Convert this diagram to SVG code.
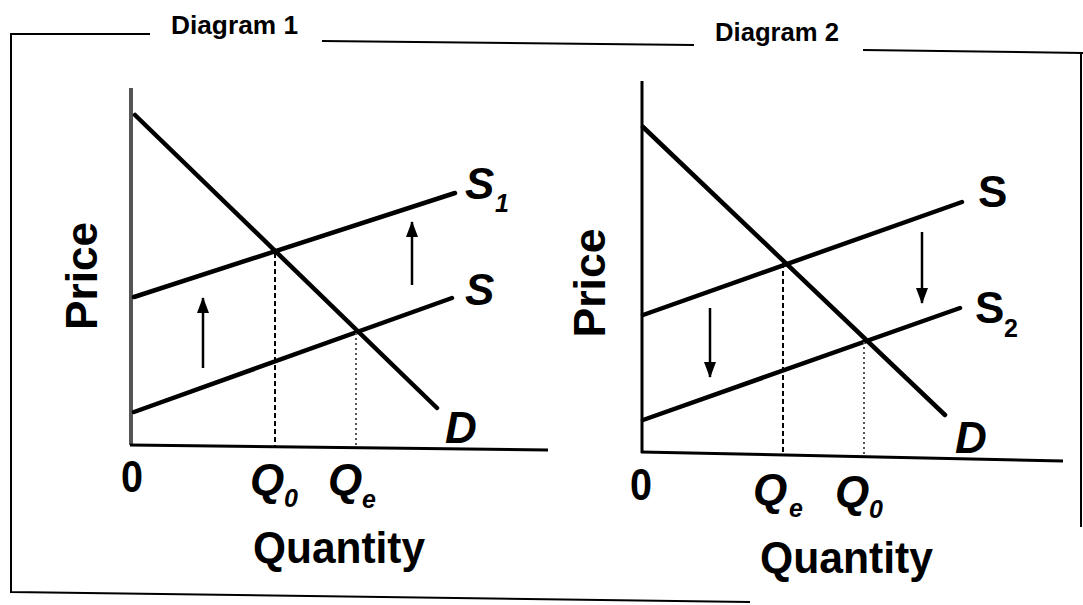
<svg xmlns="http://www.w3.org/2000/svg" width="1083" height="605" viewBox="0 0 1083 605">
<style>
.frame{stroke:#000;stroke-width:2;fill:none}
.axis{stroke:#000;stroke-width:3;fill:none}
.curve{stroke:#000;stroke-width:4.5;fill:none;stroke-linecap:round}
.dash{stroke:#000;stroke-width:2;fill:none;stroke-dasharray:5 3}
.dot{stroke:#555;stroke-width:2;fill:none;stroke-dasharray:2 3}
.arr{stroke:#000;stroke-width:2.5;fill:none}
.title{font-family:"Liberation Sans",Arial,sans-serif;font-weight:bold;font-size:25px;fill:#000}
.lbl{font-family:"Liberation Sans",Arial,sans-serif;font-weight:bold;font-size:44px;fill:#000}
.it{font-style:italic}
.sub{font-family:"Liberation Sans",Arial,sans-serif;font-weight:bold;font-size:25px;fill:#000}
</style>
<defs>
<marker id="ah" viewBox="0 0 16 12" refX="15" refY="6" markerWidth="16" markerHeight="12" orient="auto" markerUnits="userSpaceOnUse">
<path d="M0,0 L16,6 L0,12 Z" fill="#000"/>
</marker>
</defs>
<rect width="1083" height="605" fill="#fff"/>
<g id="frame">
<polyline class="frame" points="150,34 11,34 11,592 750,602"/>
<line class="frame" x1="322" y1="41" x2="694" y2="45"/>
<line class="frame" x1="863" y1="50" x2="1083" y2="53"/>
<line class="frame" x1="1081" y1="53" x2="1081" y2="527"/>
<text class="title" x="171" y="34" textLength="127" lengthAdjust="spacingAndGlyphs">Diagram 1</text>
<text class="title" x="715" y="41" textLength="124" lengthAdjust="spacingAndGlyphs">Diagram 2</text>
</g>
<g id="diagram1">
<line class="axis" x1="131" y1="88" x2="131" y2="445" style="stroke:#555;stroke-width:4"/>
<line class="axis" x1="130" y1="445" x2="548" y2="450"/>
<g id="connectors1">
<line class="curve" x1="135" y1="115" x2="437" y2="408"/>
<line class="curve" x1="134" y1="297" x2="455" y2="193"/>
<line class="curve" x1="134" y1="412" x2="452" y2="298"/>
<line class="dash" x1="275" y1="253" x2="275" y2="446"/>
<line class="dot" x1="356" y1="333" x2="356" y2="448"/>
<line class="arr" x1="203" y1="368" x2="203" y2="298" marker-end="url(#ah)"/>
<line class="arr" x1="412" y1="285" x2="412" y2="222" marker-end="url(#ah)"/>
</g>
<text class="lbl" transform="translate(97,276) rotate(-90)" text-anchor="middle" textLength="108" lengthAdjust="spacingAndGlyphs">Price</text>
<text class="lbl it" x="465" y="199">S</text>
<text class="sub it" x="495" y="212">1</text>
<text class="lbl it" x="465" y="305">S</text>
<text class="lbl it" x="445" y="443">D</text>
<text class="lbl" x="121" y="492" textLength="22" lengthAdjust="spacingAndGlyphs">0</text>
<text class="lbl it" x="250" y="495">Q</text>
<text class="sub it" x="284" y="507">0</text>
<text class="lbl it" x="328" y="495">Q</text>
<text class="sub it" x="362" y="508">e</text>
<text class="lbl" x="253" y="563" textLength="172" lengthAdjust="spacingAndGlyphs">Quantity</text>
</g>
<g id="diagram2">
<line class="axis" x1="642" y1="81" x2="642" y2="453"/>
<line class="axis" x1="641" y1="452" x2="1063" y2="461"/>
<g id="connectors2">
<line class="curve" x1="643" y1="127" x2="945" y2="415"/>
<line class="curve" x1="643" y1="315" x2="962" y2="202"/>
<line class="curve" x1="643" y1="420" x2="960" y2="308"/>
<line class="dash" x1="783" y1="263" x2="783" y2="454"/>
<line class="dot" x1="864" y1="342" x2="864" y2="456"/>
<line class="arr" x1="710" y1="308" x2="710" y2="377" marker-end="url(#ah)"/>
<line class="arr" x1="922" y1="232" x2="922" y2="303" marker-end="url(#ah)"/>
</g>
<text class="lbl" transform="translate(605,283) rotate(-90)" text-anchor="middle" textLength="109" lengthAdjust="spacingAndGlyphs">Price</text>
<text class="lbl" x="978" y="207">S</text>
<text class="lbl" x="975" y="323">S</text>
<text class="sub" x="1004" y="337">2</text>
<text class="lbl it" x="955" y="453">D</text>
<text class="lbl" x="630" y="500" textLength="22" lengthAdjust="spacingAndGlyphs">0</text>
<text class="lbl it" x="753" y="505">Q</text>
<text class="sub it" x="789" y="517">e</text>
<text class="lbl it" x="835" y="507">Q</text>
<text class="sub it" x="869" y="518">0</text>
<text class="lbl" x="760" y="573" textLength="173" lengthAdjust="spacingAndGlyphs">Quantity</text>
</g>
</svg>
